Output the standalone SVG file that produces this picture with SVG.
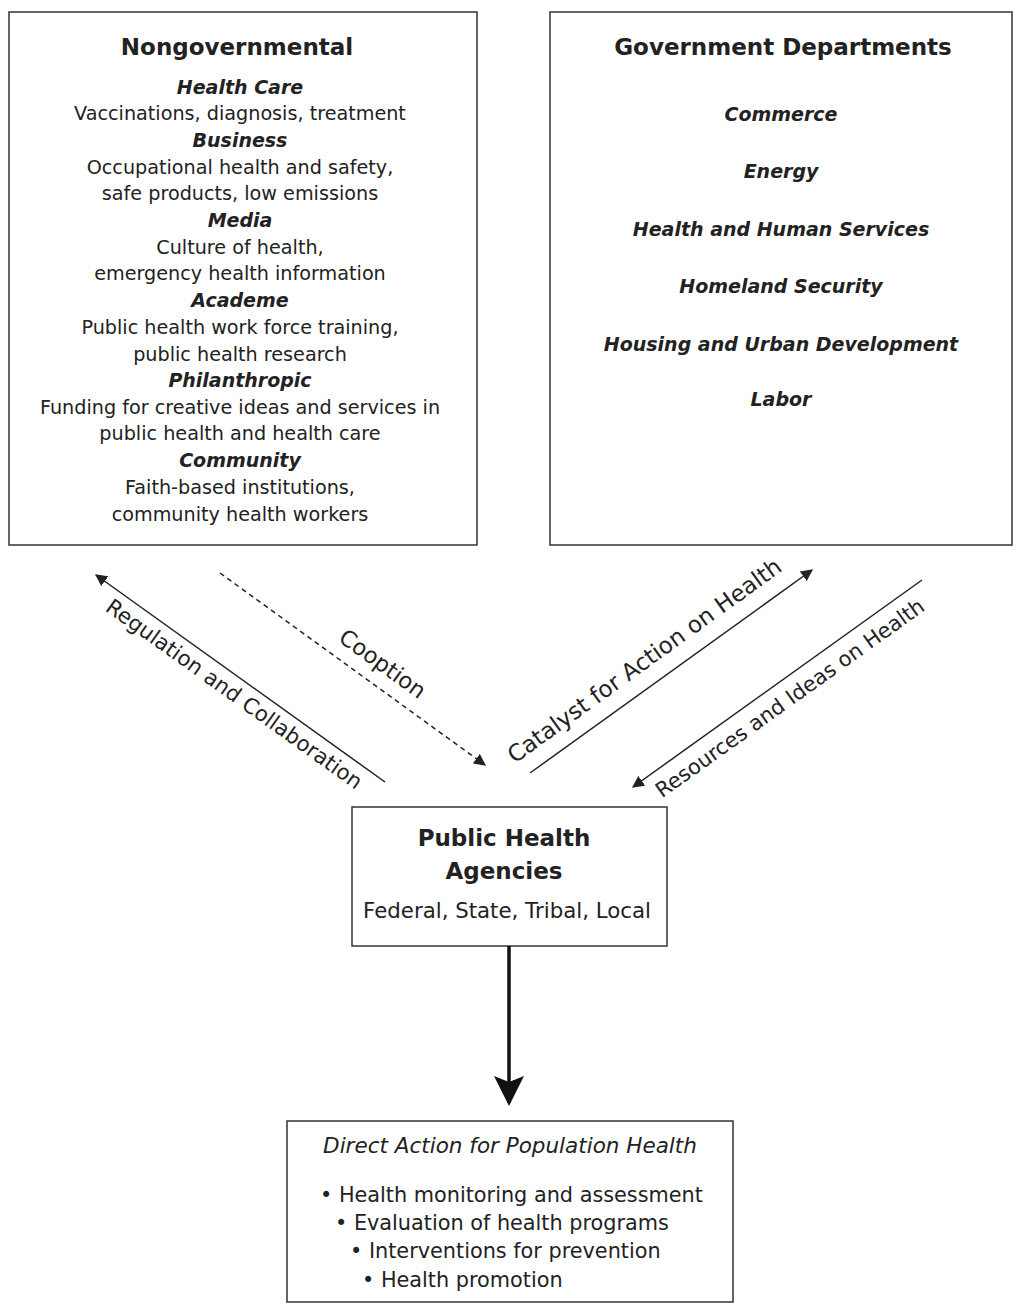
<svg xmlns="http://www.w3.org/2000/svg" width="1013" height="1305" viewBox="0 0 1013 1305">
<defs>
<marker id="ah" viewBox="0 0 10 10" refX="9" refY="5" markerWidth="12" markerHeight="12" markerUnits="userSpaceOnUse" orient="auto">
<path d="M0,0 L10,5 L0,10 z" fill="#222"/>
</marker>
<marker id="ahBig" viewBox="0 0 10 10" refX="9" refY="5" markerWidth="30" markerHeight="30" markerUnits="userSpaceOnUse" orient="auto">
<path d="M0,0 L10,5 L0,10 L2,5 z" fill="#111"/>
</marker>
</defs>
<style>
text { font-family: "DejaVu Sans", "Liberation Sans", sans-serif; fill: #222; text-anchor: middle; }
.box { fill: #fff; stroke: #333; stroke-width: 1.5; }
.title { font-size: 23px; font-weight: bold; }
.cat { font-size: 19px; font-weight: bold; font-style: italic; }
.body { font-size: 19.2px; }
.conn { stroke: #222; stroke-width: 1.5; fill: none; }
.bul { font-size: 20.8px; text-anchor: start; }
</style>
<rect width="1013" height="1305" fill="#fff"/>

<g id="nongovernmental">
<rect class="box" x="9" y="12" width="468" height="533"/>
<text class="title" x="237" y="55">Nongovernmental</text>
<text class="cat" x="240" y="94">Health Care</text>
<text class="body" x="240" y="120">Vaccinations, diagnosis, treatment</text>
<text class="cat" x="240" y="147">Business</text>
<text class="body" x="240" y="174">Occupational health and safety,</text>
<text class="body" x="240" y="200">safe products, low emissions</text>
<text class="cat" x="240" y="227">Media</text>
<text class="body" x="240" y="254">Culture of health,</text>
<text class="body" x="240" y="280">emergency health information</text>
<text class="cat" x="240" y="307">Academe</text>
<text class="body" x="240" y="334">Public health work force training,</text>
<text class="body" x="240" y="361">public health research</text>
<text class="cat" x="240" y="387">Philanthropic</text>
<text class="body" x="240" y="414">Funding for creative ideas and services in</text>
<text class="body" x="240" y="440">public health and health care</text>
<text class="cat" x="240" y="467">Community</text>
<text class="body" x="240" y="494">Faith-based institutions,</text>
<text class="body" x="240" y="521">community health workers</text>
</g>

<g id="government">
<rect class="box" x="550" y="12" width="462" height="533"/>
<text class="title" x="783" y="55">Government Departments</text>
<text class="cat" x="781" y="121">Commerce</text>
<text class="cat" x="781" y="178">Energy</text>
<text class="cat" x="781" y="236">Health and Human Services</text>
<text class="cat" x="781" y="293">Homeland Security</text>
<text class="cat" x="781" y="351">Housing and Urban Development</text>
<text class="cat" x="781" y="406">Labor</text>
</g>

<g id="agencies">
<rect class="box" x="352" y="807" width="315" height="139"/>
<text x="504" y="846" style="font-size:23px;font-weight:bold">Public Health</text>
<text x="504" y="879" style="font-size:23px;font-weight:bold">Agencies</text>
<text x="507" y="918" style="font-size:21.3px">Federal, State, Tribal, Local</text>
</g>

<g id="direct-action">
<rect class="box" x="287" y="1121" width="446" height="181"/>
<text x="510" y="1153" style="font-size:21.5px;font-style:italic">Direct Action for Population Health</text>
<text class="bul" x="320" y="1202">• Health monitoring and assessment</text>
<text class="bul" x="335" y="1230">• Evaluation of health programs</text>
<text class="bul" x="350" y="1258">• Interventions for prevention</text>
<text class="bul" x="362" y="1287">• Health promotion</text>
</g>

<g id="connectors">
<line class="conn" x1="385" y1="782" x2="96" y2="575" marker-end="url(#ah)"/>
<line class="conn" x1="220" y1="573" x2="485" y2="765" stroke-dasharray="5,4" marker-end="url(#ah)"/>
<line class="conn" x1="530" y1="773" x2="812" y2="570" marker-end="url(#ah)"/>
<line class="conn" x1="922" y1="580" x2="633" y2="787" marker-end="url(#ah)"/>
<line x1="509" y1="946" x2="509" y2="1103" stroke="#111" stroke-width="3.5" marker-end="url(#ahBig)"/>
<text transform="translate(230,700) rotate(35.6)" style="font-size:21.3px">Regulation and Collaboration</text>
<text transform="translate(378,670) rotate(36)" style="font-size:22.5px">Cooption</text>
<text transform="translate(649,667) rotate(-35.8)" style="font-size:23px">Catalyst for Action on Health</text>
<text transform="translate(794,704) rotate(-35.6)" style="font-size:21px">Resources and Ideas on Health</text>
</g>
</svg>
